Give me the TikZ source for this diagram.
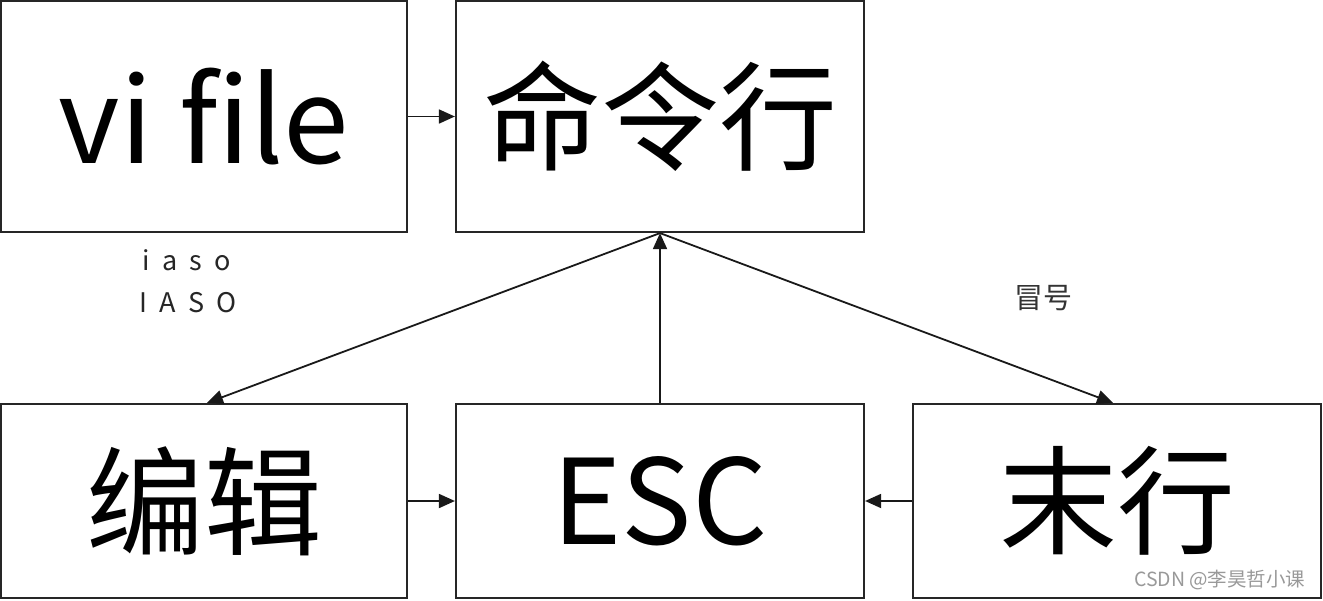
\documentclass[tikz,border=0pt]{standalone}
\usepackage{fontspec}
\setmainfont{Noto Sans CJK SC}
\usetikzlibrary{arrows.meta}
\begin{document}
\begin{tikzpicture}[x=1pt,y=-1pt,
  box/.style={draw=black!85,line width=2.2pt,rectangle,inner sep=0pt,
    font=\fontsize{118}{130}\selectfont},
  arr/.style={draw=black!90,line width=1.8pt,-{Triangle[length=16pt,width=14pt]}},
  lbl/.style={font=\fontsize{27}{30}\selectfont\addfontfeature{LetterSpace=45},text=black!85}]
\fill[white] (0,0) rectangle (1323,600);
\useasboundingbox (0,0) rectangle (1323,600);
\node[box,minimum width=406pt,minimum height=231pt] (vi) at (204,116.5) {vi file};
\node[box,minimum width=408pt,minimum height=231pt] (cmd) at (660,116.5) {命令行};
\node[box,minimum width=406pt,minimum height=194pt] (edit) at (204,501) {编辑};
\node[box,minimum width=408pt,minimum height=194pt] (esc) at (660,501) {ESC};
\node[box,minimum width=408pt,minimum height=194pt] (mh) at (1117,501) {末行};
\draw[arr] (vi.east) -- (cmd.west);
\draw[arr] (edit.east) -- (esc.west);
\draw[arr] (mh.west) -- (esc.east);
\draw[arr] (esc.north) -- (cmd.south);
\draw[arr] (cmd.south) -- ([xshift=3pt]edit.north);
\draw[arr] (cmd.south) -- ([xshift=-4pt]mh.north);
\node[lbl] (l1) at (187,260) {iaso};
\node[lbl] (l2) at (188,303) {IASO};
\node[font=\fontsize{29}{32}\selectfont,text=black!80] (colon) at (1043,298) {冒号};
\node[font=\fontsize{19.5}{22}\selectfont,text=black!40,anchor=east] (wm) at (1309,580) {CSDN @李昊哲小课};
\end{tikzpicture}
\end{document}
